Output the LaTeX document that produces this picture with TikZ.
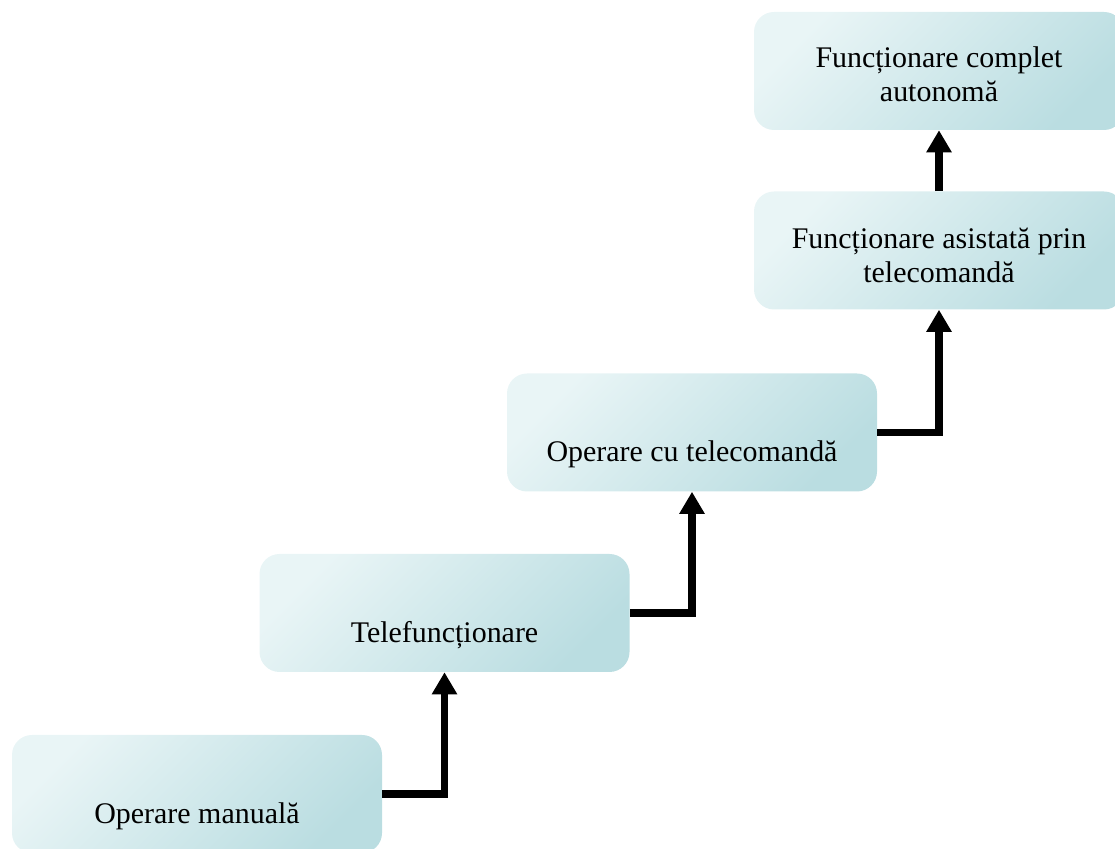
\documentclass[tikz,border=0pt]{standalone}
\usepackage{fontspec}
\setmainfont{Liberation Serif}
\usetikzlibrary{arrows.meta}
\definecolor{boxlight}{RGB}{233,245,246}
\definecolor{boxdark}{RGB}{186,221,225}

\begin{document}
\begin{tikzpicture}[
    levelbox/.style={rectangle, rounded corners=0.5cm, minimum width=9.25cm, minimum height=2.95cm,
        top color=boxlight, bottom color=boxdark, shading angle=45},
    leveltext/.style={font=\fontsize{21.3}{24}\selectfont, align=center},
    stepline/.style={line width=5pt, -{Triangle[width=0.6cm,length=0.55cm]}}
    ]
            \useasboundingbox (0,0) rectangle (27.875,21.225);
            \node[levelbox] (manual) at (4.925,1.375){};
            \node[levelbox] (telefunc) at (11.1125,5.9){};
            \node[levelbox] (telecmd) at (17.3,10.4125){};
            \node[levelbox] (asistat) at (23.475,14.9625){};
            \node[levelbox] (autonom) at (23.475,19.45){};
            \node[leveltext] (manualtxt) at ([yshift=-0.55cm]manual.center){Operare manuală};
            \node[leveltext] (telefunctxt) at ([yshift=-0.55cm]telefunc.center){Telefuncționare};
            \node[leveltext] (telecmdtxt) at ([yshift=-0.55cm]telecmd.center){Operare cu telecomandă};
            \node[leveltext] (asistattxt) at ([yshift=-0.12cm]asistat.center){Funcționare asistată prin\\telecomandă};
            \node[leveltext] (autonomtxt) at ([yshift=-0.08cm]autonom.center){Funcționare complet\\autonomă};
            \draw[stepline] (manual.east) -| (telefunc.south);
            \draw[stepline] (telefunc.east) -| (telecmd.south);
            \draw[stepline] (telecmd.east) -| (asistat.south);
            \draw[stepline] (asistat.north) -- (autonom.south);
        \end{tikzpicture}
\end{document}
